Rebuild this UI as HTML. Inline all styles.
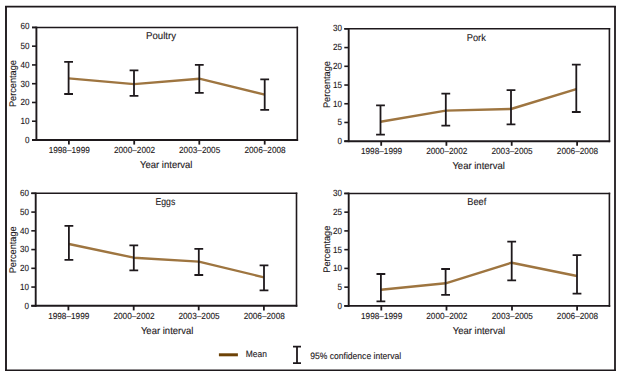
<!DOCTYPE html>
<html><head><meta charset="utf-8"><style>
html,body{margin:0;padding:0;background:#fff;width:620px;height:375px;overflow:hidden}
svg{display:block}
text{text-rendering:geometricPrecision;font-family:"Liberation Sans", sans-serif;fill:#1e191c;stroke:#1e191c;stroke-width:0.12px}
</style></head><body>
<svg width="620" height="375" viewBox="0 0 620 375">
<path d="M6 5.9 V371" fill="none" stroke="#1e191c" stroke-width="1.9"/>
<path d="M615 5.9 V371" fill="none" stroke="#1e191c" stroke-width="1.8"/>
<path d="M5.05 6.67 H615.9" fill="none" stroke="#1e191c" stroke-width="1.6"/>
<path d="M5.05 370.2 H615.9" fill="none" stroke="#1e191c" stroke-width="1.4"/>
<path d="M32.0 27.4 H298.1" fill="none" stroke="#1e191c" stroke-width="1.5"/>
<path d="M32.0 140.0 H298.1" fill="none" stroke="#1e191c" stroke-width="1.9"/>
<path d="M36.4 26.65 V140.95" fill="none" stroke="#1e191c" stroke-width="1.9"/>
<path d="M297.3 26.65 V140.95" fill="none" stroke="#1e191c" stroke-width="1.6"/>
<line x1="32.0" y1="140.00" x2="36.4" y2="140.00" stroke="#1e191c" stroke-width="1.6"/>
<text x="29.599999999999998" y="142.90" text-anchor="end" font-size="9" textLength="4.5" lengthAdjust="spacingAndGlyphs">0</text>
<line x1="32.0" y1="121.23" x2="36.4" y2="121.23" stroke="#1e191c" stroke-width="1.6"/>
<text x="29.599999999999998" y="124.13" text-anchor="end" font-size="9" textLength="9.0" lengthAdjust="spacingAndGlyphs">10</text>
<line x1="32.0" y1="102.47" x2="36.4" y2="102.47" stroke="#1e191c" stroke-width="1.6"/>
<text x="29.599999999999998" y="105.37" text-anchor="end" font-size="9" textLength="9.0" lengthAdjust="spacingAndGlyphs">20</text>
<line x1="32.0" y1="83.70" x2="36.4" y2="83.70" stroke="#1e191c" stroke-width="1.6"/>
<text x="29.599999999999998" y="86.60" text-anchor="end" font-size="9" textLength="9.0" lengthAdjust="spacingAndGlyphs">30</text>
<line x1="32.0" y1="64.93" x2="36.4" y2="64.93" stroke="#1e191c" stroke-width="1.6"/>
<text x="29.599999999999998" y="67.83" text-anchor="end" font-size="9" textLength="9.0" lengthAdjust="spacingAndGlyphs">40</text>
<line x1="32.0" y1="46.17" x2="36.4" y2="46.17" stroke="#1e191c" stroke-width="1.6"/>
<text x="29.599999999999998" y="49.07" text-anchor="end" font-size="9" textLength="9.0" lengthAdjust="spacingAndGlyphs">50</text>
<line x1="32.0" y1="27.40" x2="36.4" y2="27.40" stroke="#1e191c" stroke-width="1.6"/>
<text x="29.599999999999998" y="29.30" text-anchor="end" font-size="9" textLength="9.0" lengthAdjust="spacingAndGlyphs">60</text>
<line x1="68.9" y1="140.0" x2="68.9" y2="144.6" stroke="#1e191c" stroke-width="1.8"/>
<text x="69.25" y="153.05" text-anchor="middle" font-size="8.8" textLength="41.2" lengthAdjust="spacingAndGlyphs">1998–1999</text>
<line x1="134.2" y1="140.0" x2="134.2" y2="144.6" stroke="#1e191c" stroke-width="1.8"/>
<text x="134.54999999999998" y="153.05" text-anchor="middle" font-size="8.8" textLength="41.2" lengthAdjust="spacingAndGlyphs">2000–2002</text>
<line x1="199.3" y1="140.0" x2="199.3" y2="144.6" stroke="#1e191c" stroke-width="1.8"/>
<text x="199.65" y="153.05" text-anchor="middle" font-size="8.8" textLength="41.2" lengthAdjust="spacingAndGlyphs">2003–2005</text>
<line x1="264.7" y1="140.0" x2="264.7" y2="144.6" stroke="#1e191c" stroke-width="1.8"/>
<text x="265.05" y="153.05" text-anchor="middle" font-size="8.8" textLength="41.2" lengthAdjust="spacingAndGlyphs">2006–2008</text>
<text x="166.25" y="168.0" text-anchor="middle" font-size="10" textLength="52.5" lengthAdjust="spacingAndGlyphs">Year interval</text>
<text transform="translate(16.45 83.6) rotate(-90)" x="0" y="0" text-anchor="middle" font-size="9.6" textLength="47" lengthAdjust="spacingAndGlyphs">Percentage</text>
<text x="146" y="39.2" font-size="10" textLength="30" lengthAdjust="spacingAndGlyphs">Poultry</text>
<polyline points="68.6,78.4 134.0,84.1 199.3,78.7 264.7,94.7" fill="none" stroke="#9e7540" stroke-width="2.4" stroke-linejoin="round"/>
<path d="M68.6 61.9 V94.0 M64.19999999999999 61.9 H73.0 M64.19999999999999 94.0 H73.0" fill="none" stroke="#1e191c" stroke-width="1.8"/>
<path d="M134.0 70.3 V95.9 M129.6 70.3 H138.4 M129.6 95.9 H138.4" fill="none" stroke="#1e191c" stroke-width="1.8"/>
<path d="M199.3 64.9 V92.9 M194.9 64.9 H203.70000000000002 M194.9 92.9 H203.70000000000002" fill="none" stroke="#1e191c" stroke-width="1.8"/>
<path d="M264.7 79.3 V109.9 M260.3 79.3 H269.09999999999997 M260.3 109.9 H269.09999999999997" fill="none" stroke="#1e191c" stroke-width="1.8"/>
<path d="M344.3 28.85 H610.1999999999999" fill="none" stroke="#1e191c" stroke-width="1.5"/>
<path d="M344.3 141.2 H610.1999999999999" fill="none" stroke="#1e191c" stroke-width="1.9"/>
<path d="M348.7 28.1 V142.14999999999998" fill="none" stroke="#1e191c" stroke-width="1.9"/>
<path d="M609.4 28.1 V142.14999999999998" fill="none" stroke="#1e191c" stroke-width="1.6"/>
<line x1="344.3" y1="141.20" x2="348.7" y2="141.20" stroke="#1e191c" stroke-width="1.6"/>
<text x="341.9" y="144.10" text-anchor="end" font-size="9" textLength="4.5" lengthAdjust="spacingAndGlyphs">0</text>
<line x1="344.3" y1="122.47" x2="348.7" y2="122.47" stroke="#1e191c" stroke-width="1.6"/>
<text x="341.9" y="125.38" text-anchor="end" font-size="9" textLength="4.5" lengthAdjust="spacingAndGlyphs">5</text>
<line x1="344.3" y1="103.75" x2="348.7" y2="103.75" stroke="#1e191c" stroke-width="1.6"/>
<text x="341.9" y="106.65" text-anchor="end" font-size="9" textLength="9.0" lengthAdjust="spacingAndGlyphs">10</text>
<line x1="344.3" y1="85.03" x2="348.7" y2="85.03" stroke="#1e191c" stroke-width="1.6"/>
<text x="341.9" y="87.93" text-anchor="end" font-size="9" textLength="9.0" lengthAdjust="spacingAndGlyphs">15</text>
<line x1="344.3" y1="66.30" x2="348.7" y2="66.30" stroke="#1e191c" stroke-width="1.6"/>
<text x="341.9" y="69.20" text-anchor="end" font-size="9" textLength="9.0" lengthAdjust="spacingAndGlyphs">20</text>
<line x1="344.3" y1="47.57" x2="348.7" y2="47.57" stroke="#1e191c" stroke-width="1.6"/>
<text x="341.9" y="50.47" text-anchor="end" font-size="9" textLength="9.0" lengthAdjust="spacingAndGlyphs">25</text>
<line x1="344.3" y1="28.85" x2="348.7" y2="28.85" stroke="#1e191c" stroke-width="1.6"/>
<text x="341.9" y="30.75" text-anchor="end" font-size="9" textLength="9.0" lengthAdjust="spacingAndGlyphs">30</text>
<line x1="381.2" y1="141.2" x2="381.2" y2="145.79999999999998" stroke="#1e191c" stroke-width="1.8"/>
<text x="381.55" y="154.25" text-anchor="middle" font-size="8.8" textLength="41.2" lengthAdjust="spacingAndGlyphs">1998–1999</text>
<line x1="446.4" y1="141.2" x2="446.4" y2="145.79999999999998" stroke="#1e191c" stroke-width="1.8"/>
<text x="446.75" y="154.25" text-anchor="middle" font-size="8.8" textLength="41.2" lengthAdjust="spacingAndGlyphs">2000–2002</text>
<line x1="511.7" y1="141.2" x2="511.7" y2="145.79999999999998" stroke="#1e191c" stroke-width="1.8"/>
<text x="512.05" y="154.25" text-anchor="middle" font-size="8.8" textLength="41.2" lengthAdjust="spacingAndGlyphs">2003–2005</text>
<line x1="577.1" y1="141.2" x2="577.1" y2="145.79999999999998" stroke="#1e191c" stroke-width="1.8"/>
<text x="577.45" y="154.25" text-anchor="middle" font-size="8.8" textLength="41.2" lengthAdjust="spacingAndGlyphs">2006–2008</text>
<text x="478.65" y="168.8" text-anchor="middle" font-size="10" textLength="52.5" lengthAdjust="spacingAndGlyphs">Year interval</text>
<text transform="translate(330.0 84.6) rotate(-90)" x="0" y="0" text-anchor="middle" font-size="9.6" textLength="47" lengthAdjust="spacingAndGlyphs">Percentage</text>
<text x="466.7" y="40.5" font-size="10" textLength="19.1" lengthAdjust="spacingAndGlyphs">Pork</text>
<polyline points="380.5,121.8 445.8,110.6 511.0,109.0 576.3,89.2" fill="none" stroke="#9e7540" stroke-width="2.4" stroke-linejoin="round"/>
<path d="M380.5 105.4 V134.6 M376.1 105.4 H384.9 M376.1 134.6 H384.9" fill="none" stroke="#1e191c" stroke-width="1.8"/>
<path d="M445.8 93.6 V125.7 M441.40000000000003 93.6 H450.2 M441.40000000000003 125.7 H450.2" fill="none" stroke="#1e191c" stroke-width="1.8"/>
<path d="M511.0 90.1 V124.3 M506.6 90.1 H515.4 M506.6 124.3 H515.4" fill="none" stroke="#1e191c" stroke-width="1.8"/>
<path d="M576.3 64.6 V112.0 M571.9 64.6 H580.6999999999999 M571.9 112.0 H580.6999999999999" fill="none" stroke="#1e191c" stroke-width="1.8"/>
<path d="M31.300000000000004 193.35 H297.3" fill="none" stroke="#1e191c" stroke-width="1.5"/>
<path d="M31.300000000000004 305.8 H297.3" fill="none" stroke="#1e191c" stroke-width="1.9"/>
<path d="M35.7 192.6 V306.75" fill="none" stroke="#1e191c" stroke-width="1.9"/>
<path d="M296.5 192.6 V306.75" fill="none" stroke="#1e191c" stroke-width="1.6"/>
<line x1="31.300000000000004" y1="305.80" x2="35.7" y2="305.80" stroke="#1e191c" stroke-width="1.6"/>
<text x="28.900000000000002" y="308.70" text-anchor="end" font-size="9" textLength="4.5" lengthAdjust="spacingAndGlyphs">0</text>
<line x1="31.300000000000004" y1="287.06" x2="35.7" y2="287.06" stroke="#1e191c" stroke-width="1.6"/>
<text x="28.900000000000002" y="289.96" text-anchor="end" font-size="9" textLength="9.0" lengthAdjust="spacingAndGlyphs">10</text>
<line x1="31.300000000000004" y1="268.32" x2="35.7" y2="268.32" stroke="#1e191c" stroke-width="1.6"/>
<text x="28.900000000000002" y="271.22" text-anchor="end" font-size="9" textLength="9.0" lengthAdjust="spacingAndGlyphs">20</text>
<line x1="31.300000000000004" y1="249.58" x2="35.7" y2="249.58" stroke="#1e191c" stroke-width="1.6"/>
<text x="28.900000000000002" y="252.48" text-anchor="end" font-size="9" textLength="9.0" lengthAdjust="spacingAndGlyphs">30</text>
<line x1="31.300000000000004" y1="230.83" x2="35.7" y2="230.83" stroke="#1e191c" stroke-width="1.6"/>
<text x="28.900000000000002" y="233.73" text-anchor="end" font-size="9" textLength="9.0" lengthAdjust="spacingAndGlyphs">40</text>
<line x1="31.300000000000004" y1="212.09" x2="35.7" y2="212.09" stroke="#1e191c" stroke-width="1.6"/>
<text x="28.900000000000002" y="214.99" text-anchor="end" font-size="9" textLength="9.0" lengthAdjust="spacingAndGlyphs">50</text>
<line x1="31.300000000000004" y1="193.35" x2="35.7" y2="193.35" stroke="#1e191c" stroke-width="1.6"/>
<text x="28.900000000000002" y="196.25" text-anchor="end" font-size="9" textLength="9.0" lengthAdjust="spacingAndGlyphs">60</text>
<line x1="68.4" y1="305.8" x2="68.4" y2="310.40000000000003" stroke="#1e191c" stroke-width="1.8"/>
<text x="68.75" y="318.85" text-anchor="middle" font-size="8.8" textLength="41.2" lengthAdjust="spacingAndGlyphs">1998–1999</text>
<line x1="133.7" y1="305.8" x2="133.7" y2="310.40000000000003" stroke="#1e191c" stroke-width="1.8"/>
<text x="134.04999999999998" y="318.85" text-anchor="middle" font-size="8.8" textLength="41.2" lengthAdjust="spacingAndGlyphs">2000–2002</text>
<line x1="198.7" y1="305.8" x2="198.7" y2="310.40000000000003" stroke="#1e191c" stroke-width="1.8"/>
<text x="199.04999999999998" y="318.85" text-anchor="middle" font-size="8.8" textLength="41.2" lengthAdjust="spacingAndGlyphs">2003–2005</text>
<line x1="263.9" y1="305.8" x2="263.9" y2="310.40000000000003" stroke="#1e191c" stroke-width="1.8"/>
<text x="264.25" y="318.85" text-anchor="middle" font-size="8.8" textLength="41.2" lengthAdjust="spacingAndGlyphs">2006–2008</text>
<text x="167.15" y="333.5" text-anchor="middle" font-size="10" textLength="52.5" lengthAdjust="spacingAndGlyphs">Year interval</text>
<text transform="translate(16.45 249.8) rotate(-90)" x="0" y="0" text-anchor="middle" font-size="9.6" textLength="47" lengthAdjust="spacingAndGlyphs">Percentage</text>
<text x="155.5" y="205.1" font-size="10" textLength="19.8" lengthAdjust="spacingAndGlyphs">Eggs</text>
<polyline points="68.9,244.0 133.8,257.7 198.8,261.6 264.0,277.3" fill="none" stroke="#9e7540" stroke-width="2.4" stroke-linejoin="round"/>
<path d="M68.9 225.9 V259.9 M64.5 225.9 H73.30000000000001 M64.5 259.9 H73.30000000000001" fill="none" stroke="#1e191c" stroke-width="1.8"/>
<path d="M133.8 245.3 V270.3 M129.4 245.3 H138.20000000000002 M129.4 270.3 H138.20000000000002" fill="none" stroke="#1e191c" stroke-width="1.8"/>
<path d="M198.8 248.9 V275.0 M194.4 248.9 H203.20000000000002 M194.4 275.0 H203.20000000000002" fill="none" stroke="#1e191c" stroke-width="1.8"/>
<path d="M264.0 265.3 V290.4 M259.6 265.3 H268.4 M259.6 290.4 H268.4" fill="none" stroke="#1e191c" stroke-width="1.8"/>
<path d="M344.3 193.4 H610.1999999999999" fill="none" stroke="#1e191c" stroke-width="1.5"/>
<path d="M344.3 305.9 H610.1999999999999" fill="none" stroke="#1e191c" stroke-width="1.9"/>
<path d="M348.7 192.65 V306.84999999999997" fill="none" stroke="#1e191c" stroke-width="1.9"/>
<path d="M609.4 192.65 V306.84999999999997" fill="none" stroke="#1e191c" stroke-width="1.6"/>
<line x1="344.3" y1="305.90" x2="348.7" y2="305.90" stroke="#1e191c" stroke-width="1.6"/>
<text x="341.9" y="308.80" text-anchor="end" font-size="9" textLength="4.5" lengthAdjust="spacingAndGlyphs">0</text>
<line x1="344.3" y1="287.15" x2="348.7" y2="287.15" stroke="#1e191c" stroke-width="1.6"/>
<text x="341.9" y="290.05" text-anchor="end" font-size="9" textLength="4.5" lengthAdjust="spacingAndGlyphs">5</text>
<line x1="344.3" y1="268.40" x2="348.7" y2="268.40" stroke="#1e191c" stroke-width="1.6"/>
<text x="341.9" y="271.30" text-anchor="end" font-size="9" textLength="9.0" lengthAdjust="spacingAndGlyphs">10</text>
<line x1="344.3" y1="249.65" x2="348.7" y2="249.65" stroke="#1e191c" stroke-width="1.6"/>
<text x="341.9" y="252.55" text-anchor="end" font-size="9" textLength="9.0" lengthAdjust="spacingAndGlyphs">15</text>
<line x1="344.3" y1="230.90" x2="348.7" y2="230.90" stroke="#1e191c" stroke-width="1.6"/>
<text x="341.9" y="233.80" text-anchor="end" font-size="9" textLength="9.0" lengthAdjust="spacingAndGlyphs">20</text>
<line x1="344.3" y1="212.15" x2="348.7" y2="212.15" stroke="#1e191c" stroke-width="1.6"/>
<text x="341.9" y="215.05" text-anchor="end" font-size="9" textLength="9.0" lengthAdjust="spacingAndGlyphs">25</text>
<line x1="344.3" y1="193.40" x2="348.7" y2="193.40" stroke="#1e191c" stroke-width="1.6"/>
<text x="341.9" y="196.30" text-anchor="end" font-size="9" textLength="9.0" lengthAdjust="spacingAndGlyphs">30</text>
<line x1="381.3" y1="305.9" x2="381.3" y2="310.5" stroke="#1e191c" stroke-width="1.8"/>
<text x="381.65000000000003" y="318.95" text-anchor="middle" font-size="8.8" textLength="41.2" lengthAdjust="spacingAndGlyphs">1998–1999</text>
<line x1="446.5" y1="305.9" x2="446.5" y2="310.5" stroke="#1e191c" stroke-width="1.8"/>
<text x="446.85" y="318.95" text-anchor="middle" font-size="8.8" textLength="41.2" lengthAdjust="spacingAndGlyphs">2000–2002</text>
<line x1="512.0" y1="305.9" x2="512.0" y2="310.5" stroke="#1e191c" stroke-width="1.8"/>
<text x="512.35" y="318.95" text-anchor="middle" font-size="8.8" textLength="41.2" lengthAdjust="spacingAndGlyphs">2003–2005</text>
<line x1="577.1" y1="305.9" x2="577.1" y2="310.5" stroke="#1e191c" stroke-width="1.8"/>
<text x="577.45" y="318.95" text-anchor="middle" font-size="8.8" textLength="41.2" lengthAdjust="spacingAndGlyphs">2006–2008</text>
<text x="478.95" y="333.5" text-anchor="middle" font-size="10" textLength="52.5" lengthAdjust="spacingAndGlyphs">Year interval</text>
<text transform="translate(330.2 249.2) rotate(-90)" x="0" y="0" text-anchor="middle" font-size="9.6" textLength="47" lengthAdjust="spacingAndGlyphs">Percentage</text>
<text x="467.3" y="205.1" font-size="10" textLength="19" lengthAdjust="spacingAndGlyphs">Beef</text>
<polyline points="380.9,289.8 445.6,283.3 511.7,262.7 577.0,276.0" fill="none" stroke="#9e7540" stroke-width="2.4" stroke-linejoin="round"/>
<path d="M380.9 274.0 V301.3 M376.5 274.0 H385.29999999999995 M376.5 301.3 H385.29999999999995" fill="none" stroke="#1e191c" stroke-width="1.8"/>
<path d="M445.6 269.0 V294.9 M441.20000000000005 269.0 H450.0 M441.20000000000005 294.9 H450.0" fill="none" stroke="#1e191c" stroke-width="1.8"/>
<path d="M511.7 241.6 V280.4 M507.3 241.6 H516.1 M507.3 280.4 H516.1" fill="none" stroke="#1e191c" stroke-width="1.8"/>
<path d="M577.0 255.2 V293.7 M572.6 255.2 H581.4 M572.6 293.7 H581.4" fill="none" stroke="#1e191c" stroke-width="1.8"/>
<line x1="218.9" y1="354.8" x2="237.9" y2="354.8" stroke="#6d4206" stroke-width="3"/>
<text x="245.8" y="357.3" font-size="9.2" textLength="21" lengthAdjust="spacingAndGlyphs">Mean</text>
<path d="M297 346.6 V363.2 M293 346.6 H301 M293 363.2 H301" fill="none" stroke="#1e191c" stroke-width="1.8"/>
<text x="310.3" y="359.2" font-size="9.2" textLength="90.8" lengthAdjust="spacingAndGlyphs">95% confidence interval</text>
</svg>
</body></html>
